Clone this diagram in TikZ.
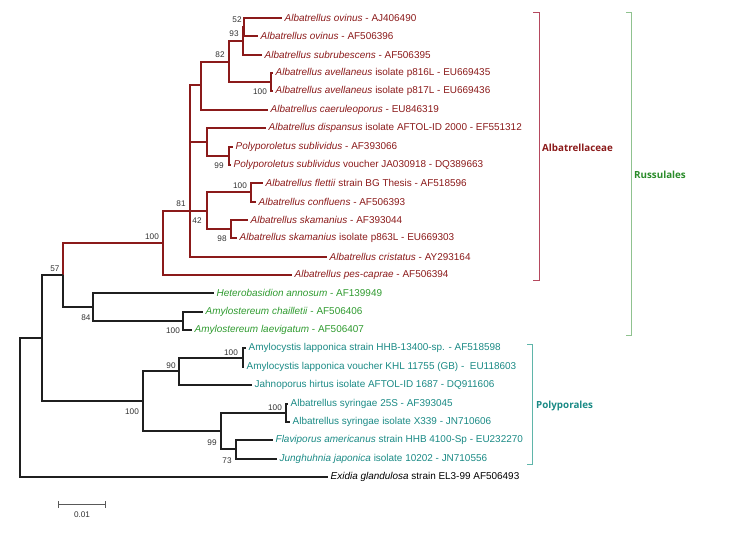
\documentclass[tikz,border=0pt]{standalone}
\usepackage{fontspec}
\setmainfont{Liberation Sans}
\newfontfamily\labfont{Open Sans}
\definecolor{albc}{HTML}{8B1A1A}
\definecolor{rusc}{HTML}{2E9A2E}
\definecolor{polc}{HTML}{1A8A85}
\definecolor{albbr}{HTML}{B5495E}
\definecolor{rusbr}{HTML}{8FC28F}
\definecolor{polbr}{HTML}{5FB5AA}
\begin{document}
\begin{tikzpicture}[x=1pt,y=-1pt,
  rb/.style={line width=1.9pt,albc},
  kb/.style={line width=1.9pt,black!88},
  leaf/.style={anchor=west,inner sep=0pt,xshift=2.5pt,font=\fontsize{9.95}{11}\selectfont},
  bs/.style={inner sep=0pt,font=\fontsize{8.2}{9}\selectfont,text=black!80},
  clade/.style={anchor=west,inner sep=0pt,font=\labfont\bfseries\fontsize{9.8}{11}\selectfont},
  brk/.style={line width=1pt}]
\useasboundingbox (0,0) rectangle (750,555);
% leaf ends
\def\ry#1{18+18.36*(#1-1)}
\coordinate (l1) at (282,{round(\ry{1})});
\coordinate (l2) at (258,{round(\ry{2})});
\coordinate (l3) at (262,{round(\ry{3})});
\coordinate (l4) at (273,{round(\ry{4})});
\coordinate (l5) at (273,{round(\ry{5})});
\coordinate (l6) at (268,{round(\ry{6})});
\coordinate (l7) at (266,{round(\ry{7})});
\coordinate (l8) at (233,{round(\ry{8})});
\coordinate (l9) at (231,{round(\ry{9})});
\coordinate (l10) at (263,{round(\ry{10})});
\coordinate (l11) at (256,{round(\ry{11})});
\coordinate (l12) at (248,{round(\ry{12})});
\coordinate (l13) at (237,{round(\ry{13})});
\coordinate (l14) at (327,{round(\ry{14})});
\coordinate (l15) at (292,{round(\ry{15})});
\coordinate (l16) at (214,{round(\ry{16})});
\coordinate (l17) at (203,{round(\ry{17})});
\coordinate (l18) at (192,{round(\ry{18})});
\coordinate (l19) at (246,{round(\ry{19})});
\coordinate (l20) at (244,{round(\ry{20})});
\coordinate (l21) at (252,{round(\ry{21})});
\coordinate (l22) at (288,{round(\ry{22})});
\coordinate (l23) at (290,{round(\ry{23})});
\coordinate (l24) at (273,{round(\ry{24})});
\coordinate (l25) at (277,{round(\ry{25})});
\coordinate (l26) at (328,{round(\ry{26})});
% internal nodes
\coordinate (n52) at (244,{round(\ry{1.5})});
\coordinate (n93) at (243,{round((\ry{1.5}+\ry{3})/2)});
\coordinate (nav) at (271,{round(\ry{4.5})});
\coordinate (n82) at (229,{round(((\ry{1.5}+\ry{3})/2+\ry{4.5})/2)});
\coordinate (nC) at (201,85);
\coordinate (npo) at (229,{round(\ry{8.5})});
\coordinate (nD) at (207,{round((\ry{7}+\ry{8.5})/2)});
\coordinate (nfl) at (251,{round(\ry{10.5})});
\coordinate (n98) at (231,{round(\ry{12.5})});
\coordinate (n42) at (207,{round((\ry{10.5}+\ry{12.5})/2)});
\coordinate (n81) at (190,{round((\ry{10.5}+\ry{12.5})/2)});
\coordinate (n100a) at (163,243);
\coordinate (nam) at (183,{round(\ry{17.5})});
\coordinate (n84) at (93,{round((\ry{16}+\ry{17.5})/2)});
\coordinate (n57) at (63,275);
\coordinate (namy) at (243,{round(\ry{19.5})});
\coordinate (n90) at (179,{round((\ry{19.5}+\ry{21})/2)});
\coordinate (nsy) at (286,{round(\ry{22.5})});
\coordinate (n73) at (236,{round(\ry{24.5})});
\coordinate (n99) at (221,{round((\ry{22.5}+\ry{24.5})/2)});
\coordinate (n100p) at (143,401);
\coordinate (n57b) at (42,338);
\coordinate (root) at (20,408);
% red subtree
\draw[rb] (n52) |- (l1); \draw[rb] (n52) |- (l2);
\draw[rb] (n93) |- (n52); \draw[rb] (n93) |- (l3);
\draw[rb] (nav) |- (l4); \draw[rb] (nav) |- (l5);
\draw[rb] (n82) |- (n93); \draw[rb] (n82) |- (nav);
\draw[rb] (nC) |- (n82); \draw[rb] (nC) |- (l6);
\draw[rb] (npo) |- (l8); \draw[rb] (npo) |- (l9);
\draw[rb] (nD) |- (l7); \draw[rb] (nD) |- (npo);
\draw[rb] (nfl) |- (l10); \draw[rb] (nfl) |- (l11);
\draw[rb] (n98) |- (l12); \draw[rb] (n98) |- (l13);
\draw[rb] (n42) |- (nfl); \draw[rb] (n42) |- (n98);
\draw[rb] (n81) |- (nC); \draw[rb] (n81) |- (nD); \draw[rb] (n81) -- (n42); \draw[rb] (n81) |- (l14);
\draw[rb] (n100a) |- (n81); \draw[rb] (n100a) |- (l15);
\draw[rb] (n57) |- (n100a);
% black branches
\draw[kb] (nam) |- (l17); \draw[kb] (nam) |- (l18);
\draw[kb] (n84) |- (l16); \draw[kb] (n84) |- (nam);
\draw[kb] (n57) |- (n84);
\draw[kb] (namy) |- (l19); \draw[kb] (namy) |- (l20);
\draw[kb] (n90) |- (namy); \draw[kb] (n90) |- (l21);
\draw[kb] (nsy) |- (l22); \draw[kb] (nsy) |- (l23);
\draw[kb] (n73) |- (l24); \draw[kb] (n73) |- (l25);
\draw[kb] (n99) |- (nsy); \draw[kb] (n99) |- (n73);
\draw[kb] (n100p) |- (n90); \draw[kb] (n100p) |- (n99);
\draw[kb] (n57b) |- (n57); \draw[kb] (n57b) |- (n100p);
\draw[kb] (root) |- (n57b); \draw[kb] (root) |- (l26);
% leaf labels
\begin{scope}[text=albc]
\node[leaf] (t1) at (l1) {\textit{Albatrellus ovinus} - AJ406490};
\node[leaf] (t2) at (l2) {\textit{Albatrellus ovinus} - AF506396};
\node[leaf] (t3) at (l3) {\textit{Albatrellus subrubescens} - AF506395};
\node[leaf] (t4) at (l4) {\textit{Albatrellus avellaneus} isolate p816L - EU669435};
\node[leaf] (t5) at (l5) {\textit{Albatrellus avellaneus} isolate p817L - EU669436};
\node[leaf] (t6) at (l6) {\textit{Albatrellus caeruleoporus} - EU846319};
\node[leaf] (t7) at (l7) {\textit{Albatrellus dispansus} isolate AFTOL-ID 2000 - EF551312};
\node[leaf] (t8) at (l8) {\textit{Polyporoletus sublividus} - AF393066};
\node[leaf] (t9) at (l9) {\textit{Polyporoletus sublividus} voucher JA030918 - DQ389663};
\node[leaf] (t10) at (l10) {\textit{Albatrellus flettii} strain BG Thesis - AF518596};
\node[leaf] (t11) at (l11) {\textit{Albatrellus confluens} - AF506393};
\node[leaf] (t12) at (l12) {\textit{Albatrellus skamanius} - AF393044};
\node[leaf] (t13) at (l13) {\textit{Albatrellus skamanius} isolate p863L - EU669303};
\node[leaf] (t14) at (l14) {\textit{Albatrellus cristatus} - AY293164};
\node[leaf] (t15) at (l15) {\textit{Albatrellus pes-caprae} - AF506394};
\end{scope}
\begin{scope}[text=rusc]
\node[leaf] (t16) at (l16) {\textit{Heterobasidion annosum} - AF139949};
\node[leaf] (t17) at (l17) {\textit{Amylostereum chailletii} - AF506406};
\node[leaf] (t18) at (l18) {\textit{Amylostereum laevigatum} - AF506407};
\end{scope}
\begin{scope}[text=polc]
\node[leaf] (t19) at (l19) {Amylocystis lapponica strain HHB-13400-sp. - AF518598};
\node[leaf] (t20) at (l20) {Amylocystis lapponica voucher KHL 11755 (GB) - \ EU118603};
\node[leaf] (t21) at (l21) {Jahnoporus hirtus isolate AFTOL-ID 1687 - DQ911606};
\node[leaf] (t22) at (l22) {Albatrellus syringae 25S - AF393045};
\node[leaf] (t23) at (l23) {Albatrellus syringae isolate X339 - JN710606};
\node[leaf] (t24) at (l24) {\textit{Flaviporus americanus} strain HHB 4100-Sp - EU232270};
\node[leaf] (t25) at (l25) {\textit{Junghuhnia japonica} isolate 10202 - JN710556};
\end{scope}
\node[leaf,text=black] (t26) at (l26) {\textit{Exidia glandulosa} strain EL3-99 AF506493};
% bootstrap values
\node[bs] (b52) at (237,20) {52};
\node[bs] (b93) at (234,34) {93};
\node[bs] (b82) at (220,55) {82};
\node[bs] (b100av) at (260,92) {100};
\node[bs] (b99po) at (219,166) {99};
\node[bs] (b100fl) at (240,186) {100};
\node[bs] (b81) at (181,204) {81};
\node[bs] (b42) at (197,221) {42};
\node[bs] (b98) at (222,239) {98};
\node[bs] (b100a) at (152,237) {100};
\node[bs] (b57) at (55,269) {57};
\node[bs] (b84) at (86,318) {84};
\node[bs] (b100am) at (173,331) {100};
\node[bs] (b100my) at (231,353) {100};
\node[bs] (b90) at (171,366) {90};
\node[bs] (b100p) at (132,412) {100};
\node[bs] (b100sy) at (275,408) {100};
\node[bs] (b99) at (212,443) {99};
\node[bs] (b73) at (227,461) {73};
% brackets
\coordinate (a1) at (533,12); \coordinate (a2) at (539,12);
\coordinate (a3) at (539,280); \coordinate (a4) at (533,280);
\draw[brk,albbr] (a1) -- (a2) -- (a3) -- (a4);
\node[clade,text=albc] (lab1) at (542,148) {Albatrellaceae};
\coordinate (r1) at (626,12); \coordinate (r2) at (631,12);
\coordinate (r3) at (631,335); \coordinate (r4) at (626,335);
\draw[brk,rusbr] (r1) -- (r2) -- (r3) -- (r4);
\node[clade,text=rusc!90!black] (lab2) at (634,175) {Russulales};
\coordinate (p1) at (527,344); \coordinate (p2) at (532,344);
\coordinate (p3) at (532,464); \coordinate (p4) at (527,464);
\draw[brk,polbr] (p1) -- (p2) -- (p3) -- (p4);
\node[clade,text=polc] (lab3) at (536,406) {Polyporales};
% scale bar
\coordinate (s1) at (58,504); \coordinate (s2) at (105,504);
\draw[line width=1pt,black!65] (s1) -- (s2);
\draw[line width=1pt,black!65] ([yshift=-3.5pt]s1) -- ([yshift=3.5pt]s1);
\draw[line width=1pt,black!65] ([yshift=-3.5pt]s2) -- ([yshift=3.5pt]s2);
\node[bs] (sl) at (82,515) {0.01};
\end{tikzpicture}
\end{document}
